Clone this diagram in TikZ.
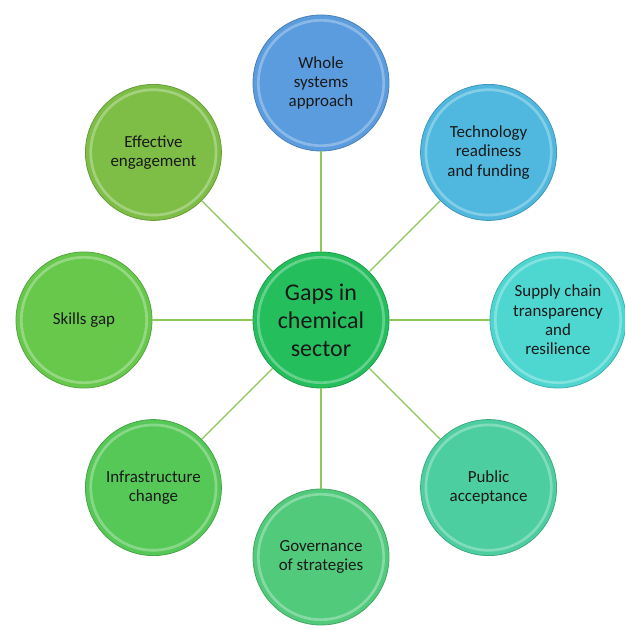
\documentclass[tikz,border=0pt]{standalone}
\usepackage{fontspec}
\setmainfont{Carlito}

\definecolor{hubgreen}{RGB}{36,190,92}
\definecolor{wholeblue}{RGB}{90,156,222}
\definecolor{techblue}{RGB}{80,184,222}
\definecolor{supplyteal}{RGB}{78,214,208}
\definecolor{publicteal}{RGB}{76,206,160}
\definecolor{govgreen}{RGB}{82,202,124}
\definecolor{infragreen}{RGB}{86,200,88}
\definecolor{skillsgreen}{RGB}{104,200,76}
\definecolor{effgreen}{RGB}{126,190,70}
\definecolor{linkgreen}{RGB}{140,200,90}

\begin{document}
\begin{tikzpicture}[x=0.75pt, y=0.75pt]
	% Distance of the outer circles from the hub
	\def\R{237}
	
	\tikzset{
		bubble/.style={circle, fill=#1, draw=#1!82!black, line width=0.6pt,
			minimum size=102pt, inner sep=0pt, align=center,
			text=black!90, font=\fontsize{12.7}{14.5}\selectfont,
			path picture={\draw[white, opacity=0.3, line width=2pt]
				(path picture bounding box.center) circle (47pt);}},
		link/.style={draw=linkgreen, line width=0.8pt}
	}
	
	% --- Area ---
	\useasboundingbox (-321,-309) rectangle (304,320);
	
	% --- Hub ---
	\node[bubble=hubgreen, font=\fontsize{18}{21}\selectfont] (hub) at (0,0)
		{Gaps in\\chemical\\sector};
	
	% --- Outer circles ---
	\node[bubble=wholeblue] (whole) at (90:\R) {Whole\\systems\\approach};
	\node[bubble=techblue] (tech) at (45:\R) {Technology\\readiness\\and funding};
	\node[bubble=supplyteal] (supply) at (0:\R) {Supply chain\\transparency\\and\\resilience};
	\node[bubble=publicteal] (public) at (-45:\R) {Public\\acceptance};
	\node[bubble=govgreen] (gov) at (-90:\R) {Governance\\of strategies};
	\node[bubble=infragreen] (infra) at (-135:\R) {Infrastructure\\change};
	\node[bubble=skillsgreen] (skills) at (180:\R) {Skills gap};
	\node[bubble=effgreen] (engage) at (135:\R) {Effective\\engagement};
	
	% --- Links ---
	\foreach \n in {whole, tech, supply, public, gov, infra, skills, engage}
		\draw[link] (hub) -- (\n);
\end{tikzpicture}
\end{document}
